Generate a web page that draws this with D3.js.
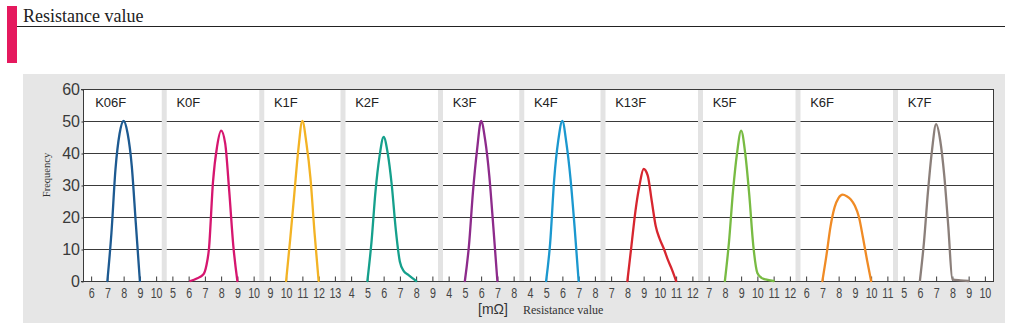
<!DOCTYPE html>
<html>
<head>
<meta charset="utf-8">
<script src="https://cdn.jsdelivr.net/npm/d3@7"></script>
<style>
  body { margin: 0; background: #fff; }
  svg { display: block; }
</style>
</head>
<body>
<svg id="chart" width="1013" height="327"></svg>
<script>
// ---- Data ----
const panels   = ["K06F", "K0F", "K1F", "K2F", "K3F", "K4F", "K13F", "K5F", "K6F", "K7F"];
const tickMin  = [6, 5, 9, 4, 4, 4, 7, 7, 6, 5];
const tickMax  = [10, 10, 13, 9, 8, 8, 12, 12, 11, 10];
const yTicks   = [0, 10, 20, 30, 40, 50, 60];
const colors   = ["#1d5a91", "#d6166f", "#f3b324", "#15a08c", "#8d2b8b", "#1b98cf", "#d7262f", "#78bb43", "#f08b25", "#8b7f7a"];

const seriesK06F = [[7,0],[7.25,15],[7.5,35],[7.75,46],[8,50],[8.25,46],[8.5,36],[8.75,18],[9,0]];
const seriesK0F  = [[6.1,0],[6.5,0.8],[6.9,2],[7.1,5],[7.25,10],[7.5,31],[7.75,42],[8,47],[8.25,43],[8.5,28],[8.75,11],[9,0]];
const seriesK1F  = [[10,0],[10.25,13],[10.5,27],[10.75,41],[11,50],[11.25,43],[11.5,32],[11.75,15],[12,0]];
const seriesK2F  = [[5,0],[5.25,12],[5.5,28],[5.75,39],[6,45],[6.25,40],[6.5,30],[6.75,16],[7,6],[7.25,3],[7.5,2],[7.75,1],[8,0]];
const seriesK3F  = [[5,0],[5.25,11],[5.5,28],[5.75,41],[6,50],[6.25,44],[6.5,33],[6.75,17],[7,0]];
const seriesK4F  = [[5,0],[5.25,12],[5.5,32],[5.75,44],[6,50],[6.25,43],[6.5,32],[6.75,17],[7,0]];
const seriesK13F = [[8,0],[8.25,11],[8.5,22],[8.75,30],[9,35],[9.25,33],[9.5,25],[9.75,17],[10,13],[10.25,10],[10.5,6.5],[10.75,3.5],[11,0]];
const seriesK5F  = [[8,0],[8.25,12],[8.5,28],[8.75,40],[9,47],[9.25,40],[9.5,27],[9.75,11],[10,2.5],[10.25,1],[10.5,0.5],[11,0]];
const seriesK6F  = [[7,0],[7.25,8],[7.5,17],[7.75,23],[8,26],[8.25,27],[8.5,26.5],[8.75,25.5],[9,23.5],[9.25,20],[9.5,13.5],[9.75,6.5],[10,0]];
const seriesK7F  = [[6,0],[6.25,12],[6.5,28],[6.75,41],[7,49],[7.25,44],[7.5,33],[7.75,17],[8,0.5],[8.5,0.2],[9,0]];
const allSeries  = [seriesK06F, seriesK0F, seriesK1F, seriesK2F, seriesK3F, seriesK4F, seriesK13F, seriesK5F, seriesK6F, seriesK7F];

// ---- Layout ----
const svg = d3.select("#chart");
const plotL = 83, plotR = 993, plotT = 89, plotB = 281;
const counts = tickMax.map((m, i) => m - tickMin[i] + 1);
const totalTicks = d3.sum(counts);
const starts = counts.map((c, i) => d3.sum(counts.slice(0, i)));
const xg = d3.scaleLinear().domain([-0.5, totalTicks - 0.5]).range([plotL, plotR]);
const y = d3.scaleLinear().domain([0, 60]).range([plotB, plotT]);
const xScales = panels.map((p, i) =>
  d3.scaleLinear()
    .domain([tickMin[i] - 0.5, tickMax[i] + 0.5])
    .range([xg(starts[i] - 0.5), xg(starts[i] + counts[i] - 0.5)]));

const sans = "'Liberation Sans', Arial, sans-serif";
const serif = "'Liberation Serif', 'Times New Roman', serif";

// Title block
svg.append("rect").attr("x", 7).attr("y", 6).attr("width", 10).attr("height", 57).attr("fill", "#e5195e");
svg.append("line").attr("x1", 17).attr("x2", 1005).attr("y1", 26.5).attr("y2", 26.5).attr("stroke", "#222").attr("stroke-width", 1);
svg.append("text").attr("x", 23).attr("y", 21.5).attr("font-family", serif).attr("font-size", 18).attr("fill", "#222").text("Resistance value");

// Gray box
svg.append("rect").attr("x", 23).attr("y", 74).attr("width", 982).attr("height", 249).attr("fill", "#e6e6e6");
// Plot background
svg.append("rect").attr("x", plotL).attr("y", plotT).attr("width", plotR - plotL).attr("height", plotB - plotT).attr("fill", "#fff");

// Grid lines per panel
const g = svg.append("g");
panels.forEach((p, i) => {
  const xs = xScales[i];
  const [r0, r1] = xs.range();
  g.selectAll(null).data(yTicks.filter(v => v > 0 && v < 60)).enter().append("line")
    .attr("x1", r0).attr("x2", r1)
    .attr("y1", d => Math.round(y(d)) + 0.5).attr("y2", d => Math.round(y(d)) + 0.5)
    .attr("stroke", "#3a3a3a").attr("stroke-width", 1);
});

// Separators
g.selectAll(null).data(starts.slice(1)).enter().append("rect")
  .attr("x", d => xg(d - 0.5) - 2.5).attr("width", 5)
  .attr("y", plotT + 1).attr("height", plotB - plotT - 1)
  .attr("fill", "#e3e3e3");

// Frame
const frame = svg.append("g").attr("stroke", "#3a3a3a").attr("stroke-width", 1).attr("fill", "none");
frame.append("line").attr("x1", plotL - 2).attr("x2", plotR + 0.5).attr("y1", plotT + 0.5).attr("y2", plotT + 0.5);
frame.append("line").attr("x1", plotL - 2).attr("x2", plotR + 0.5).attr("y1", plotB + 0.5).attr("y2", plotB + 0.5);
frame.append("line").attr("x1", plotL + 0.5).attr("x2", plotL + 0.5).attr("y1", plotT).attr("y2", plotB + 1);
frame.append("line").attr("x1", plotR + 0.5).attr("x2", plotR + 0.5).attr("y1", plotT).attr("y2", plotB + 1);

// Y axis
const yAxis = svg.append("g").attr("transform", `translate(${plotL + 0.5},0.5)`)
  .call(d3.axisLeft(y).tickValues(yTicks).tickSize(2).tickPadding(1.5).tickFormat(d3.format("d")));
yAxis.select(".domain").remove();
yAxis.selectAll("line").attr("stroke", "#3a3a3a");
yAxis.selectAll("text").attr("font-family", sans).attr("font-size", 16).attr("fill", "#3a3a3a");

// X axes per panel
panels.forEach((p, i) => {
  const ax = svg.append("g").attr("transform", `translate(0,${plotB + 0.5})`)
    .call(d3.axisBottom(xScales[i]).tickValues(d3.range(tickMin[i], tickMax[i] + 1)).tickSize(-5).tickPadding(6).tickFormat(d3.format("d")));
  ax.select(".domain").remove();
  ax.selectAll("line").attr("stroke", "#3a3a3a");
  ax.selectAll("text").attr("font-family", sans).attr("font-size", 14.5).attr("fill", "#444")
    .attr("transform", "scale(0.74,1)");
});

// Curves
const curves = svg.append("g");
allSeries.forEach((s, i) => {
  const line = d3.line().x(d => xScales[i](d[0])).y(d => y(d[1])).curve(d3.curveMonotoneX);
  curves.append("path").attr("d", line(s)).attr("fill", "none")
    .attr("stroke", colors[i]).attr("stroke-width", 2.3).attr("stroke-linejoin", "round").attr("stroke-linecap", "round");
});

// Panel labels
svg.append("g").selectAll("text").data(panels).enter().append("text")
  .attr("x", (d, i) => xScales[i](tickMin[i]) + 4)
  .attr("y", 106.5)
  .attr("font-family", sans).attr("font-size", 13).attr("fill", "#222")
  .text(d => d);

// Axis titles
svg.append("text").attr("transform", "translate(50,175) rotate(-90)").attr("text-anchor", "middle")
  .attr("font-family", serif).attr("font-size", 10.5).attr("fill", "#333").text("Frequency");
svg.append("text").attr("x", 478).attr("y", 314).attr("font-family", sans).attr("font-size", 14).attr("fill", "#333").text("[mΩ]");
svg.append("text").attr("x", 523).attr("y", 314).attr("font-family", serif).attr("font-size", 12).attr("fill", "#333").text("Resistance value");
</script>
</body>
</html>
